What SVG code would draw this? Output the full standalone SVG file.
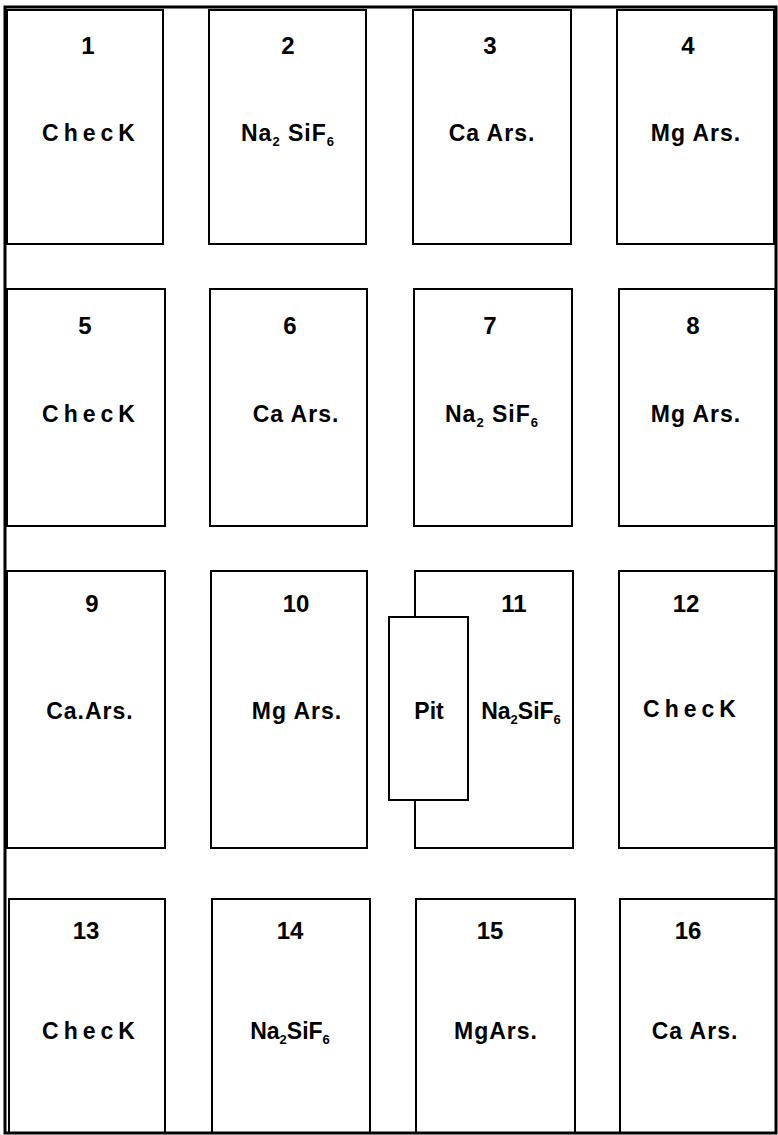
<svg xmlns="http://www.w3.org/2000/svg" width="778" height="1135" viewBox="0 0 778 1135">
<style>
.plot{fill:none;stroke:#000;stroke-width:2}
.t{font-family:"Liberation Sans",Arial,sans-serif;font-weight:bold;font-size:23px;fill:#000;text-anchor:middle;letter-spacing:1px}
.ck{letter-spacing:5px}
.n{font-family:"Liberation Sans",Arial,sans-serif;font-weight:bold;font-size:24px;fill:#000;text-anchor:middle}
.s{font-size:13px}
</style>
<rect x="0" y="0" width="778" height="1135" fill="#fff"/>
<rect x="5" y="7" width="771" height="1126" fill="none" stroke="#000" stroke-width="3"/>
<g id="connectors"></g>
<g id="p1"><rect class="plot" x="7" y="10" width="156" height="234"/><text class="n" x="88" y="54">1</text><text class="t ck" x="91" y="141">ChecK</text></g>
<g id="p2"><rect class="plot" x="209" y="10" width="157" height="234"/><text class="n" x="288" y="54">2</text><text class="t" x="288" y="141">Na<tspan class="s" dy="5">2</tspan><tspan dy="-5"> SiF</tspan><tspan class="s" dy="5">6</tspan></text></g>
<g id="p3"><rect class="plot" x="413" y="10" width="158" height="234"/><text class="n" x="490" y="54">3</text><text class="t" x="492" y="141">Ca Ars.</text></g>
<g id="p4"><rect class="plot" x="617" y="10" width="157" height="234"/><text class="n" x="688" y="54">4</text><text class="t" x="696" y="141">Mg Ars.</text></g>
<g id="p5"><rect class="plot" x="7" y="289" width="158" height="237"/><text class="n" x="85" y="334">5</text><text class="t ck" x="91" y="422">ChecK</text></g>
<g id="p6"><rect class="plot" x="210" y="289" width="157" height="237"/><text class="n" x="290" y="334">6</text><text class="t" x="296" y="422">Ca Ars.</text></g>
<g id="p7"><rect class="plot" x="414" y="289" width="158" height="237"/><text class="n" x="490" y="334">7</text><text class="t" x="492" y="422">Na<tspan class="s" dy="5">2</tspan><tspan dy="-5"> SiF</tspan><tspan class="s" dy="5">6</tspan></text></g>
<g id="p8"><rect class="plot" x="619" y="289" width="156" height="237"/><text class="n" x="693" y="334">8</text><text class="t" x="696" y="422">Mg Ars.</text></g>
<g id="p9"><rect class="plot" x="7" y="571" width="158" height="277"/><text class="n" x="92" y="612">9</text><text class="t" x="90" y="719">Ca.Ars.</text></g>
<g id="p10"><rect class="plot" x="211" y="571" width="156" height="277"/><text class="n" x="296" y="612">10</text><text class="t" x="297" y="719">Mg Ars.</text></g>
<g id="p11"><rect class="plot" x="415" y="571" width="158" height="277"/><text class="n" x="514" y="612">11</text><text class="t" x="521" y="719" style="letter-spacing:0">Na<tspan class="s" dy="5">2</tspan><tspan dy="-5">SiF</tspan><tspan class="s" dy="5">6</tspan></text></g>
<g id="pit"><rect x="389" y="617" width="79" height="183" fill="#fff" stroke="#000" stroke-width="2"/><text class="t" x="429" y="719" style="letter-spacing:0">Pit</text></g>
<g id="p12"><rect class="plot" x="619" y="571" width="156" height="277"/><text class="n" x="686" y="612">12</text><text class="t ck" x="692" y="717">ChecK</text></g>
<g id="p13"><rect class="plot" x="9" y="899" width="156" height="234"/><text class="n" x="86" y="939">13</text><text class="t ck" x="91" y="1039">ChecK</text></g>
<g id="p14"><rect class="plot" x="212" y="899" width="158" height="234"/><text class="n" x="290" y="939">14</text><text class="t" x="290" y="1039" style="letter-spacing:0">Na<tspan class="s" dy="5">2</tspan><tspan dy="-5">SiF</tspan><tspan class="s" dy="5">6</tspan></text></g>
<g id="p15"><rect class="plot" x="416" y="899" width="159" height="234"/><text class="n" x="490" y="939">15</text><text class="t" x="496" y="1039">MgArs.</text></g>
<g id="p16"><rect class="plot" x="620" y="899" width="156" height="234"/><text class="n" x="688" y="939">16</text><text class="t" x="695" y="1039">Ca Ars.</text></g>
</svg>
